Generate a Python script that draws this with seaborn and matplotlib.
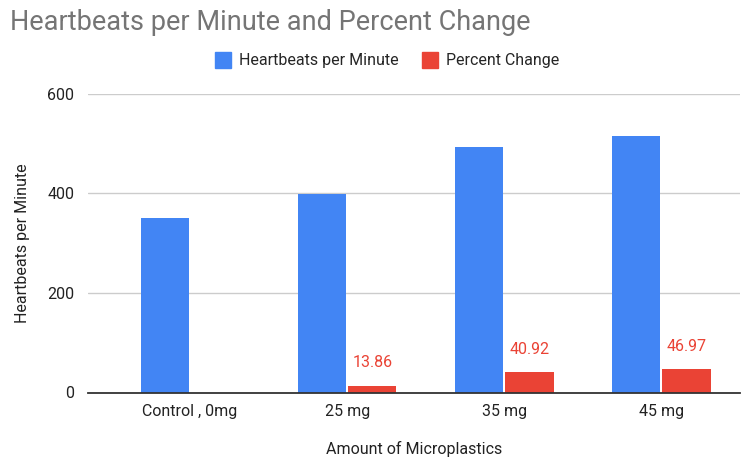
import numpy as np
import pandas as pd
import matplotlib
matplotlib.use("Agg")
import matplotlib.pyplot as plt
from matplotlib.lines import Line2D
import seaborn as sns

categories = ["Control , 0mg", "25 mg", "35 mg", "45 mg"]
heartbeats = [351, 399, 493, 515]
percent_change = [np.nan, 13.86, 40.92, 46.97]
series_names = ["Heartbeats per Minute", "Percent Change"]
colors = ["#4285F4", "#EA4335"]
yticks = [0, 200, 400, 600]

sns.set_theme(style="white")
plt.rcParams["font.family"] = ["Roboto", "DejaVu Sans"]

df = pd.DataFrame({
    "Category": categories * 2,
    "Series": [series_names[0]] * 4 + [series_names[1]] * 4,
    "Value": heartbeats + percent_change,
})

fig = plt.figure(figsize=(7.53, 4.57), dpi=100)
ax = fig.add_axes([88 / 753, 1 - 392.5 / 457, (740 - 88) / 753, (392.5 - 93.5) / 457])

sns.barplot(data=df, x="Category", y="Value", hue="Series", order=categories,
            hue_order=series_names, palette=colors, width=0.64, gap=0.04,
            saturation=1, legend=False, ax=ax, errorbar=None)

for p in ax.patches:
    p.set_edgecolor("none")

# data labels on percent change bars
red_container = ax.containers[1]
for rect in red_container:
    h = rect.get_height()
    if h is None or np.isnan(h):
        continue
    ax.annotate(f"{h:.2f}", (rect.get_x() + rect.get_width() / 2, h),
                xytext=(0, 11), textcoords="offset points", ha="center", va="bottom",
                color="#EA4335", fontsize=11.5)

ax.set_xlim(-0.65, 3.5)
ax.set_ylim(0, 600)
ax.set_yticks(yticks)
ax.set_yticklabels([str(t) for t in yticks], fontsize=11.5, color="#222222")
ax.tick_params(axis="x", labelsize=11.5, colors="#222222", length=0, pad=8)
ax.tick_params(axis="y", length=0, pad=10)
ax.yaxis.grid(True, color="#cccccc", linewidth=1)
ax.set_axisbelow(True)
for s in ["top", "right", "left"]:
    ax.spines[s].set_visible(False)
ax.spines["bottom"].set_color("#333333")
ax.spines["bottom"].set_linewidth(1.3)
ax.spines["bottom"].set_zorder(5)

ax.set_xlabel("Amount of Microplastics", fontsize=11.5, color="#222222", labelpad=16)
ax.set_ylabel("Heartbeats per Minute", fontsize=11.5, color="#222222", labelpad=12)

fig.text(10 / 753, 1 - 22 / 457, "Heartbeats per Minute and Percent Change",
         fontsize=19.5, color="#757575", ha="left", va="center")

handles = [Line2D([0], [0], marker="s", linestyle="none", markersize=11,
                  markerfacecolor=c, markeredgecolor=c) for c in colors]
fig.legend(handles, series_names, loc="center", bbox_to_anchor=(387 / 753, 1 - 61 / 457),
           ncol=2, frameon=False, fontsize=11.5, handletextpad=0.5, columnspacing=1.5,
           handlelength=1.0)

fig.savefig("out.png", dpi=100)
